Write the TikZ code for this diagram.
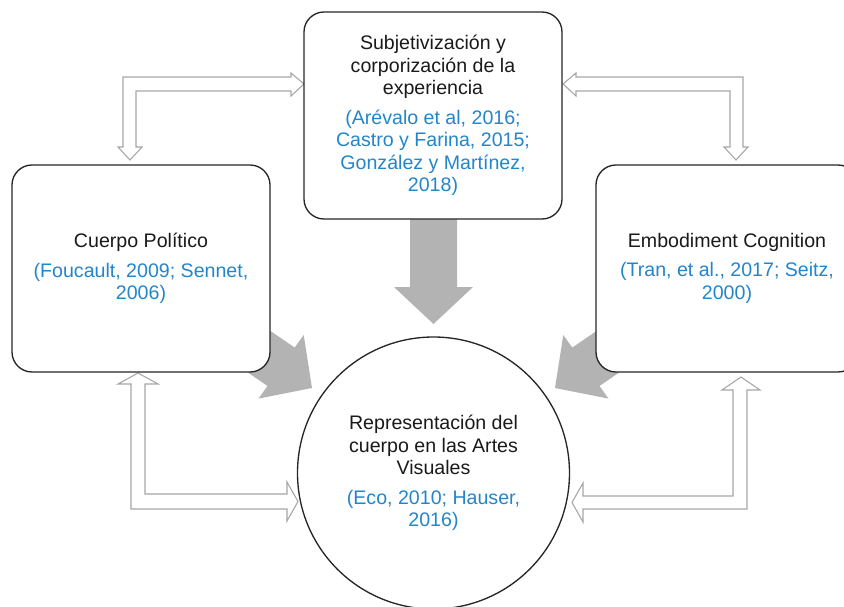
\documentclass[tikz,border=0pt]{standalone}
\usepackage{fontspec}
\setmainfont{Liberation Sans}
\definecolor{cite}{HTML}{2386CB}
\definecolor{txt}{HTML}{1A1A1A}
\definecolor{boxline}{HTML}{262626}
\definecolor{fatgray}{HTML}{B3B3B3}
\definecolor{hollow}{HTML}{A6A6A6}
\begin{document}
\begin{tikzpicture}[x=0.75pt,y=-0.75pt,
  box/.style={draw=boxline, line width=1pt, fill=white, rounded corners=15pt,
    minimum width=193.5pt, minimum height=155.25pt, align=center,
    font=\fontsize{14.7}{16.9}\selectfont, text=txt, inner sep=0pt},
  roundbox/.style={draw=boxline, line width=1pt, fill=white, circle,
    minimum size=204pt, align=center, inner sep=0pt,
    font=\fontsize{14.7}{16.9}\selectfont, text=txt},
  fatarrow/.style={fill=fatgray, draw=none},
  hollowarrow/.style={draw=hollow, line width=0.8pt, fill=white, line join=miter}]
\useasboundingbox (0,0) rectangle (844,607);

% fat gray arrows (drawn first, boxes cover their tails)
\fill[fatarrow] (410,215) -- (410,287) -- (394,287) -- (433.5,324) -- (473,287)
  -- (457,287) -- (457,215) -- cycle;
\fill[fatarrow] (220.5,296.7) -- (294.7,347.6) -- (303.7,335.0) -- (312,388)
  -- (258.5,398.6) -- (267.5,386.0) -- (193.3,335.1) -- cycle;
\fill[fatarrow] (646.5,296.7) -- (572.3,347.6) -- (563.3,335.0) -- (555,388)
  -- (608.5,398.6) -- (599.5,386.0) -- (673.7,335.1) -- cycle;

% hollow double arrows
\draw[hollowarrow] (130,160) -- (142,147) -- (136,147) -- (136,91) -- (291,91)
  -- (291,96) -- (304,84) -- (291,73) -- (291,77) -- (123,77) -- (123,147)
  -- (118,147) -- cycle;
\draw[hollowarrow] (736,160) -- (724,147) -- (730,147) -- (730,91) -- (576,91)
  -- (576,96) -- (563,84) -- (576,73) -- (576,77) -- (743,77) -- (743,147)
  -- (748,147) -- cycle;
\draw[hollowarrow] (138,373) -- (158,384) -- (145,384) -- (145,494) -- (287,494)
  -- (287,482) -- (298,501.5) -- (287,521) -- (287,509) -- (131,509) -- (131,384)
  -- (118,384) -- cycle;
\draw[hollowarrow] (741,377) -- (760,390) -- (747,390) -- (747,509) -- (583,509)
  -- (583,522) -- (572,502.5) -- (583,483) -- (583,496) -- (733,496) -- (733,390)
  -- (722,390) -- cycle;

% boxes
\node[box] (top) at (433,115.5) {Subjetivización y\\corporización de la\\experiencia\\[5pt]
  \textcolor{cite}{(Arévalo et al, 2016;}\\\textcolor{cite}{Castro y Farina, 2015;}\\
  \textcolor{cite}{González y Martínez,}\\\textcolor{cite}{2018)}};
\node[box] (left) at (141,268.5) {Cuerpo Político\\[5pt]
  \textcolor{cite}{(Foucault, 2009; Sennet,}\\\textcolor{cite}{2006)}};
\node[box, minimum width=196.5pt] (right) at (727,268.5) {Embodiment Cognition\\[5pt]
  \textcolor{cite}{(Tran, et al., 2017; Seitz,}\\\textcolor{cite}{2000)}};
\node[roundbox] (center) at (433.5,473) {Representación del\\cuerpo en las Artes\\Visuales\\[5pt]
  \textcolor{cite}{(Eco, 2010; Hauser,}\\\textcolor{cite}{2016)}};
\end{tikzpicture}
\end{document}
